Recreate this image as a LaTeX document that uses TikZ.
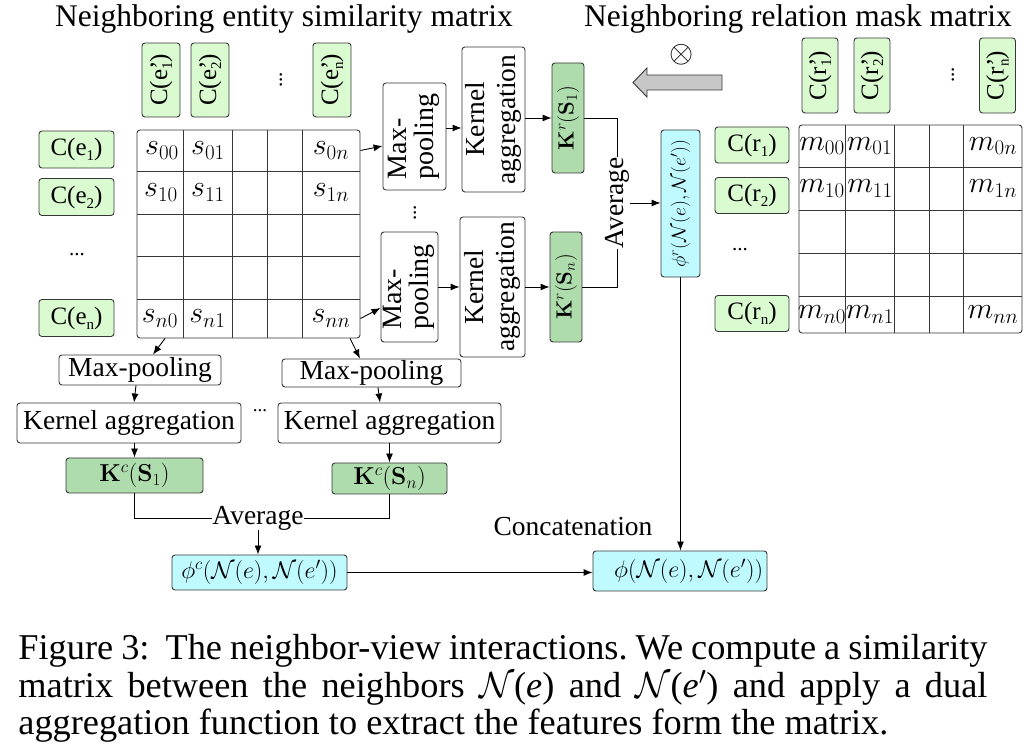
\RequirePackage{fix-cm}
\documentclass[tikz,border=0pt]{standalone}
\usepackage[no-math]{fontspec}
\setmainfont{Liberation Serif}
\usepackage{xcolor}
\usepackage{tikz}
\usetikzlibrary{calc,positioning,arrows.meta}

\definecolor{cellgreen}{RGB}{218,250,208}
\definecolor{kgreen}{RGB}{174,220,172}
\definecolor{phicyan}{RGB}{190,250,255}
\definecolor{framegray}{RGB}{55,55,55}

\newcommand\lsub[1]{\raisebox{-5pt}{\fontsize{15}{15}\selectfont #1}}

\tikzset{
  labelbox/.style={
      draw=framegray,
      rounded corners=3pt,
      fill=cellgreen,
      inner sep=0pt,
      font=\fontsize{25}{28}\selectfont,
  },
  opbox/.style={
      draw=framegray,
      rounded corners=3pt,
      fill=white,
      inner sep=0pt,
      font=\fontsize{27.5}{30}\selectfont,
  },
  kbox/.style={
      draw=framegray,
      rounded corners=3pt,
      fill=kgreen,
      inner sep=0pt,
  },
  phibox/.style={
      draw=framegray,
      rounded corners=3pt,
      fill=phicyan,
      inner sep=0pt,
  },
  matframe/.style={
      draw=framegray,
      rounded corners=3pt,
      inner sep=0pt,
  },
  entry/.style={
      font=\fontsize{30}{32}\selectfont,
      inner sep=0pt,
  },
  plain/.style={
      font=\fontsize{27.5}{30}\selectfont,
      inner sep=0pt,
  },
  dotsnode/.style={
      font=\fontsize{21}{22}\selectfont,
      inner sep=0pt,
  },
  captionline/.style={
      font=\fontsize{36.3}{38}\selectfont,
      inner sep=0pt,
      anchor=base west,
  },
}

\begin{document}
\begin{tikzpicture}[x=1pt,y=1pt,line width=0.9pt,>={Latex[length=9pt,width=7pt]}]
  \useasboundingbox (0,0) rectangle (1028,754);

  % titles
  \node[font=\fontsize{31.5}{34}\selectfont,anchor=base,inner sep=0pt](ttlsim) at (284,727)
  {Neighboring entity similarity matrix};
  \node[font=\fontsize{31.5}{34}\selectfont,anchor=base,inner sep=0pt](ttlmask) at (798,727)
  {Neighboring relation mask matrix};

  % similarity matrix: labels
  \node[labelbox,minimum width=38pt,minimum height=74pt](ce1) at (161,674)
  {\rotatebox{90}{C(e\rlap{’}\lsub{1})}};
  \node[labelbox,minimum width=38pt,minimum height=74pt](ce2) at (210,674)
  {\rotatebox{90}{C(e\rlap{’}\lsub{2})}};
  \node[dotsnode](cedots) at (281,674) {\rotatebox{90}{...}};
  \node[labelbox,minimum width=38pt,minimum height=74pt](cen) at (332,674)
  {\rotatebox{90}{C(e\rlap{’}\lsub{n})}};
  \node[labelbox,minimum width=75pt,minimum height=37pt](re1) at (76.5,604.5) {C(e\lsub{1})};
  \node[labelbox,minimum width=75pt,minimum height=37pt](re2) at (76.5,557) {C(e\lsub{2})};
  \node[dotsnode](redots) at (77,499) {...};
  \node[labelbox,minimum width=75pt,minimum height=37pt](ren) at (76.5,436) {C(e\lsub{n})};

  % similarity matrix: grid
  \node[matframe,minimum width=223pt,minimum height=208pt](smat) at (248.5,520) {};
  \foreach \x in {183,232,267,302} \draw[framegray] (\x,416) -- (\x,624);
  \foreach \y in {583,540,498,455} \draw[framegray] (137,\y) -- (360,\y);
  \node[entry](s00) at (162,603.5) {$s_{00}$};
  \node[entry](s01) at (208,603.5) {$s_{01}$};
  \node[entry](s0n) at (331,603.5) {$s_{0n}$};
  \node[entry](s10) at (161,561.5) {$s_{10}$};
  \node[entry](s11) at (208,561.5) {$s_{11}$};
  \node[entry](s1n) at (331,561.5) {$s_{1n}$};
  \node[entry](sn0) at (160,435.5) {$s_{n0}$};
  \node[entry](sn1) at (207.5,435.5) {$s_{n1}$};
  \node[entry](snn) at (331,435.5) {$s_{nn}$};

  % mask matrix: labels
  \node[labelbox,minimum width=36pt,minimum height=75pt](cr1) at (820,678.5)
  {\rotatebox{90}{C(r\rlap{’}\lsub{1})}};
  \node[labelbox,minimum width=36pt,minimum height=75pt](cr2) at (872,678.5)
  {\rotatebox{90}{C(r\rlap{’}\lsub{2})}};
  \node[dotsnode](crdots) at (953,679) {\rotatebox{90}{...}};
  \node[labelbox,minimum width=36pt,minimum height=75pt](crn) at (997.5,678.5)
  {\rotatebox{90}{C(r\rlap{’}\lsub{n})}};
  \node[labelbox,minimum width=74pt,minimum height=36pt](rr1) at (752,609) {C(r\lsub{1})};
  \node[labelbox,minimum width=74pt,minimum height=36pt](rr2) at (752,558.5) {C(r\lsub{2})};
  \node[dotsnode](rrdots) at (740,504) {...};
  \node[labelbox,minimum width=74pt,minimum height=36pt](rrn) at (752,440.5) {C(r\lsub{n})};

  % mask matrix: grid
  \node[matframe,minimum width=223pt,minimum height=208pt](mmat) at (910.5,525) {};
  \foreach \x in {845,894,929,963} \draw[framegray] (\x,421) -- (\x,629);
  \foreach \y in {587,544,501,458} \draw[framegray] (799,\y) -- (1022,\y);
  \node[entry](m00) at (822,608) {$m_{00}$};
  \node[entry](m01) at (869.5,608) {$m_{01}$};
  \node[entry](m0n) at (993,608) {$m_{0n}$};
  \node[entry](m10) at (822,565.5) {$m_{10}$};
  \node[entry](m11) at (870,565.5) {$m_{11}$};
  \node[entry](m1n) at (993,565.5) {$m_{1n}$};
  \node[entry](mn0) at (822,439.5) {$m_{n0}$};
  \node[entry](mn1) at (870,439.5) {$m_{n1}$};
  \node[entry](mnn) at (993,439.5) {$m_{nn}$};

  % mask applied to the similarity features
  \node[font=\fontsize{31}{32}\selectfont,inner sep=0pt](otimes) at (682,699) {$\otimes$};
  \draw[framegray,fill=black!22] (722,679) -- (647,679) -- (647,686) -- (633,671.5)
  -- (647,657) -- (647,664) -- (722,664) -- cycle;

  % row-wise aggregation
  \node[opbox,minimum width=63pt,minimum height=107pt](mpr1) at (414.5,617.5)
  {\rotatebox{90}{\fontsize{28}{26}\selectfont\begin{tabular}{@{}l@{}}Max-\\pooling\end{tabular}}};
  \node[opbox,minimum width=63pt,minimum height=145pt](kar1) at (493.5,634.5)
  {\rotatebox{90}{\fontsize{27.5}{31}\selectfont\begin{tabular}{@{}c@{}}Kernel\\aggregation\end{tabular}}};
  \node[kbox,minimum width=32pt,minimum height=110pt,font=\fontsize{22}{24}\selectfont](kr1)
  at (568,636) {\rotatebox{90}{$\mathbf{K}^r(\mathbf{S}_1)$}};
  \node[dotsnode](mdots) at (415,541) {\rotatebox{90}{...}};
  \node[opbox,minimum width=57pt,minimum height=110pt](mpr2) at (409.5,467)
  {\rotatebox{90}{\fontsize{28}{26}\selectfont\begin{tabular}{@{}l@{}}Max-\\pooling\end{tabular}}};
  \node[opbox,minimum width=65pt,minimum height=140pt](kar2) at (492.5,467)
  {\rotatebox{90}{\fontsize{27.5}{31}\selectfont\begin{tabular}{@{}c@{}}Kernel\\aggregation\end{tabular}}};
  \node[kbox,minimum width=32pt,minimum height=110pt,font=\fontsize{22}{24}\selectfont](krn)
  at (566,467) {\rotatebox{90}{$\mathbf{K}^r(\mathbf{S}_n)$}};
  \node[plain](avgr) at (617,551) {\rotatebox{90}{Average}};
  \node[phibox,minimum width=39pt,minimum height=147pt,font=\fontsize{19.5}{21}\selectfont](phir)
  at (680.5,550.5) {\rotatebox{90}{$\phi^r(\mathcal{N}(e),\mathcal{N}(e'))$}};

  % column-wise aggregation
  \node[opbox,minimum width=162pt,minimum height=30pt](mpc1) at (140,384) {Max-pooling};
  \node[opbox,minimum width=179pt,minimum height=28pt](mpc2) at (371.5,381) {Max-pooling};
  \node[opbox,minimum width=224pt,minimum height=40pt](kac1) at (129,331) {Kernel aggregation};
  \node[opbox,minimum width=223pt,minimum height=40pt](kac2) at (389.5,331) {Kernel aggregation};
  \node[dotsnode,font=\fontsize{19}{20}\selectfont](bdots) at (260,343) {...};
  \node[kbox,minimum width=137pt,minimum height=35pt,font=\fontsize{24.5}{26}\selectfont](kc1)
  at (134.5,278.5) {$\mathbf{K}^c(\mathbf{S}_1)$};
  \node[kbox,minimum width=115pt,minimum height=31pt,font=\fontsize{24.5}{26}\selectfont](kcn)
  at (389.5,275.5) {$\mathbf{K}^c(\mathbf{S}_n)$};
  \node[plain](avgc) at (258,236) {Average};
  \node[phibox,minimum width=175pt,minimum height=35pt,font=\fontsize{24}{26}\selectfont](phic)
  at (259.5,181.5) {$\phi^c(\mathcal{N}(e),\mathcal{N}(e'))$};

  % final feature
  \node[plain](concat) at (573,227) {Concatenation};
  \node[phibox,minimum width=174pt,minimum height=40pt,text width=166pt,align=right,
  font=\fontsize{24}{26}\selectfont](phi) at (680,183) {$\phi(\mathcal{N}(e),\mathcal{N}(e'))$};

  % connectors
  \draw[->] (smat.east |- s0n) -- ([yshift=-9.5pt]mpr1.west);
  \draw[->] (smat.east |- snn) -- ([yshift=-21pt]mpr2.west);
  \draw[->] ([xshift=-83.5pt]smat.south) -- ([xshift=13pt]mpc1.north);
  \draw[->] ([xshift=101.5pt]smat.south) -- ([xshift=-11.5pt]mpc2.north);
  \draw[->] ([yshift=8.5pt]mpr1.east) -- ([yshift=8.5pt]mpr1.east -| kar1.west);
  \draw[->] (kr1.west -| kar1.east) -- (kr1.west);
  \draw[->] (mpr2.east) -- (kar2.west);
  \draw[->] (kar2.east) -- (krn.west);
  \draw (kr1.east) -| (avgr.north);
  \draw (krn.east) -| (avgr.south);
  \draw[->] (avgr.east) -- (avgr.east -| phir.west);
  \draw[->] ([xshift=-4pt]mpc1.south) -- ([xshift=5pt]kac1.north);
  \draw[->] ([xshift=6.5pt]mpc2.south) -- ([xshift=-9.5pt]kac2.north);
  \draw[->] (kc1.north |- kac1.south) -- (kc1.north);
  \draw[->] (kcn.north |- kac2.south) -- (kcn.north);
  \draw (kc1.south) |- (avgc.west);
  \draw (kcn.south) |- (avgc.east);
  \draw[->] (avgc.south) -- (avgc.south |- phic.north);
  \draw[->] (phic.east) -- (phic.east -| phi.west);
  \draw[->] (phir.south) -- (phir.south |- phi.north);

  % caption
  \node[captionline](cap1) at (18,94)
  {\frenchspacing\makebox[969pt][s]{Figure 3:\ \ The neighbor-view interactions. We compute a similarity}};
  \node[captionline](cap2) at (18,56)
  {\makebox[969pt][s]{matrix between the neighbors $\mathcal{N}$(\textit{e}) and $\mathcal{N}$(\textit{e}$'$) and apply a dual}};
  \node[captionline](cap3) at (18,19)
  {aggregation function to extract the features form the matrix.};
\end{tikzpicture}
\end{document}
